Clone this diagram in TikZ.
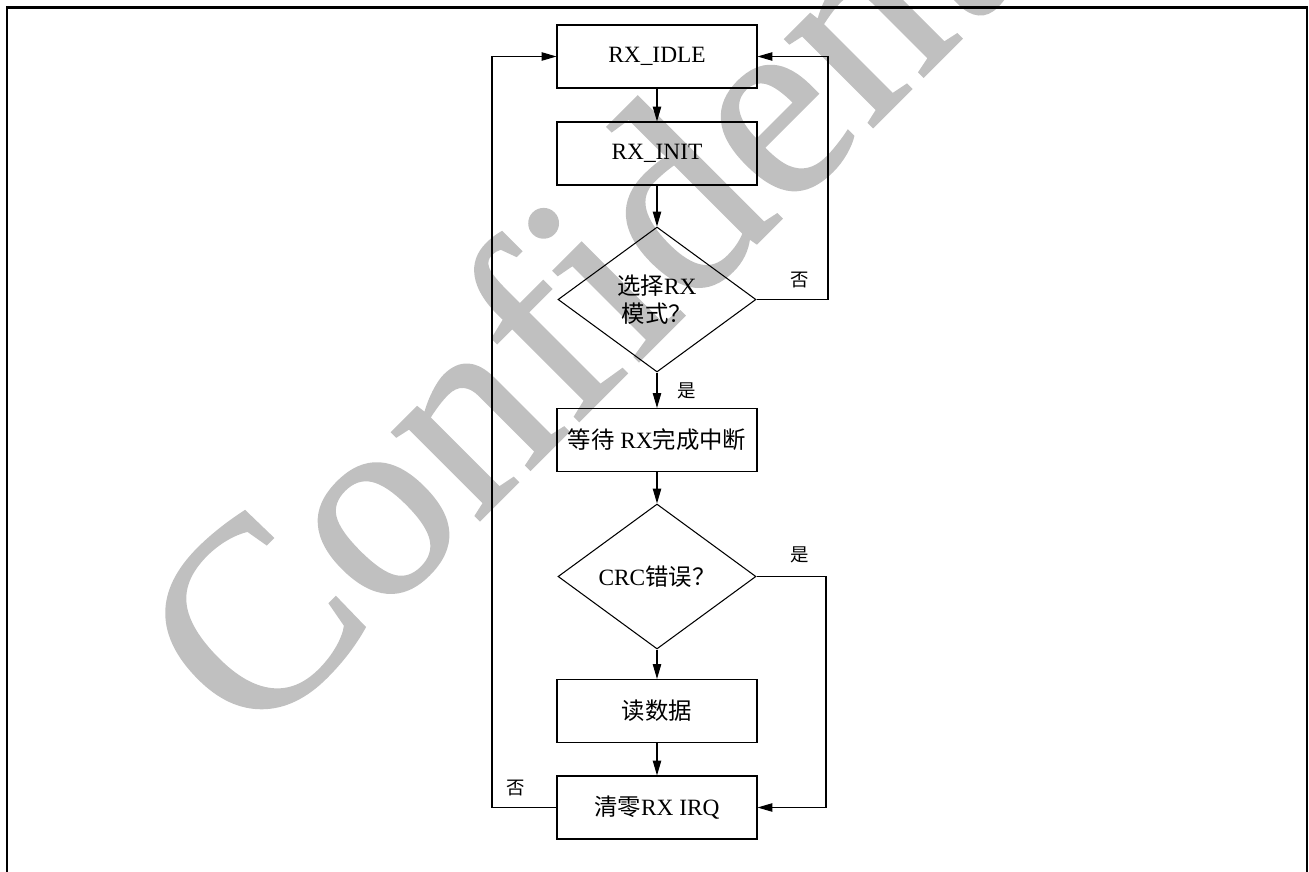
\documentclass[tikz,border=0pt]{standalone}
\usepackage{fontspec}
\setmainfont{Liberation Serif}
\newfontfamily\cjk{Noto Sans CJK SC}
\newfontfamily\wmfont[FakeBold=0.8]{Liberation Serif}
\usetikzlibrary{calc}
\usetikzlibrary{shapes.geometric}
\usetikzlibrary{arrows.meta}
\definecolor{wmgray}{RGB}{192,192,192}
\newcommand*{\midx }{657}
\newcommand*{\boxw }{4cm}
\newcommand*{\boxh }{1.26cm}
\newcommand*{\dmdw }{3.96cm}
\newcommand*{\dmdh }{2.9cm}
\newcommand*{\cn   }[1]{{\cjk #1}}

\begin{document}
\begin{tikzpicture}[x=0.02cm, y=-0.02cm, font=\fontsize{13.3}{16}\selectfont,
        stbox/.style = {draw, line width=0.6pt, minimum width=\boxw, minimum height=\boxh, inner sep=0pt, align=center},
        dmd/.style   = {draw, diamond, line width=0.6pt, minimum width=\dmdw, minimum height=\dmdh, inner sep=0pt, align=center},
        lnk/.style   = {line width=0.6pt, -{Triangle[length=8.5pt, width=4.8pt]}},
        lbl/.style   = {font=\fontsize{10.5}{12}\selectfont\cjk, inner sep=0pt}]
    \useasboundingbox (0,0) rectangle (1309,872);
    % watermark
    \begin{scope}
        \clip (0,0) rectangle (1309,872);
        \node [rotate=45, anchor=base west, inner sep=0pt, text=wmgray, font=\fontsize{154}{154}\wmfont] (wm) at (252,748) {Confidential};
    \end{scope}
    \draw [line width=1.3pt] (7,874) -- (7,7.5) -- (1307,7.5) -- (1307,874);
    % states
    \node [stbox] (idle) at (\midx, 56.5) {RX\_IDLE};
    \node [stbox] (init) at (\midx,153.5) {RX\_INIT};
    \node [dmd]   (sel)  at (\midx,299.5) {\cn{选择}RX\\\cn{模式？}};
    \node [stbox] (wait) at (\midx,440)   {\cn{等待} RX\cn{完成中断}};
    \node [dmd]   (crc)  at (\midx,576.5) {CRC\cn{错误？}};
    \node [stbox] (read) at (\midx,711)   {\cn{读数据}};
    \node [stbox] (clr)  at (\midx,807.5) {\cn{清零}RX IRQ};
    \coordinate (rtA) at (828,0);
    \coordinate (rtB) at (826,0);
    \coordinate (lfA) at (492,0);
    % links
    \draw [lnk] (idle) -- (init);
    \draw [lnk] (init) -- (sel);
    \draw [lnk] (sel)  -- (wait);
    \draw [lnk] (wait) -- (crc);
    \draw [lnk] (crc)  -- (read);
    \draw [lnk] (read) -- (clr);
    \draw [lnk] (sel.east) -- (sel.east -| rtA) |- (idle.east);
    \draw [lnk] (crc.east) -- (crc.east -| rtB) |- (clr.east);
    \draw [lnk] (clr.west) -- (clr.west -| lfA) |- (idle.west);
    % answers
    \node [lbl] (noA)  at (800,280) {否};
    \node [lbl] (yesA) at (687,391) {是};
    \node [lbl] (yesB) at (800,555) {是};
    \node [lbl] (noB)  at (516,788) {否};
\end{tikzpicture}
\end{document}
